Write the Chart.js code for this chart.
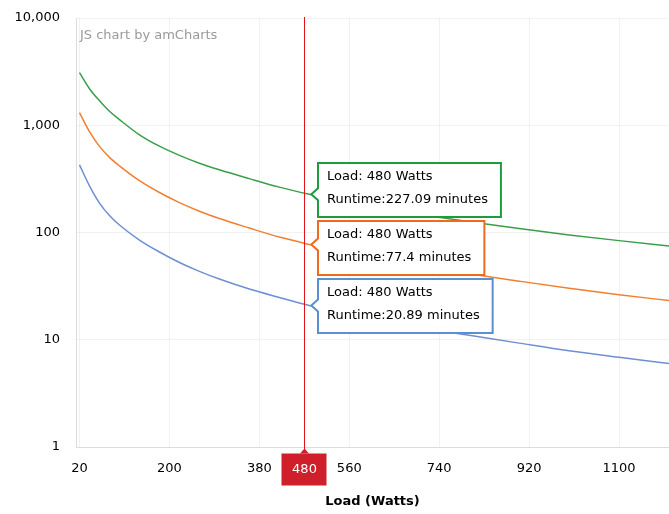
<!DOCTYPE html>
<html><head><meta charset="utf-8">
<script src="https://cdn.jsdelivr.net/npm/chart.js@4"></script>
<style>html,body{margin:0;padding:0;background:#fff;}#wrap{width:669px;height:514px;position:relative;}</style>
</head><body><div id="wrap"><canvas id="c" width="669" height="514"></canvas></div>
<script>
const loads = [20,40,60,80,100,140,180,220,260,300,360,420,480,540,600,700,800,900,1000,1100,1200];
const runtimeGreen = [3090,2190,1690,1350,1130,815,638,524,443,385,318,265,227.09,198,175,147,126,109,95,84,75];
const runtimeOrange = [1310,870,635,502,418,304,236,190,158,135,110,90.6,77.4,67.1,59,48.8,41.3,35.2,30.2,26.3,23.2];
const runtimeBlue = [427,272,188,144,117.5,85,65.8,52.5,43.4,36.8,29.7,24.8,20.89,18,15.8,13,11,9.3,7.9,6.86,6.0];
const xTicks = [20,200,380,560,740,920,1100];
const yTicks = [1,10,100,1000,10000];
const hoverLoad = 480;   // data point shown in the balloons
const cursorLoad = 469;  // where the cursor line sits

const FONT = '"DejaVu Sans", Verdana, sans-serif';
const series = [
  {label:'Runtime 1', data: runtimeGreen, line:'#3a9f4a', box:'#1f9b3b'},
  {label:'Runtime 2', data: runtimeOrange, line:'#f27f30', box:'#f06a1e'},
  {label:'Runtime 3', data: runtimeBlue, line:'#6f8fd3', box:'#5a8fd4'}
];

const overlay = {
  id:'overlay',
  afterDatasetsDraw(chart){
    const {ctx, chartArea:a, scales:{x,y}} = chart;
    ctx.save();
    ctx.font = '13px ' + FONT;
    ctx.fillStyle = '#9a9a9a'; ctx.textAlign='left'; ctx.textBaseline='middle';
    ctx.fillText('JS chart by amCharts', a.left+4, a.top+18);

    // cursor
    const cx = Math.round(x.getPixelForValue(cursorLoad)) + 0.5;
    ctx.strokeStyle = '#e3131b'; ctx.lineWidth = 1;
    ctx.beginPath(); ctx.moveTo(cx, a.top-1); ctx.lineTo(cx, a.bottom+6); ctx.stroke();
    const bt = a.bottom + 6.5;
    ctx.fillStyle = '#cf1f2b';
    ctx.fillRect(cx-23, bt, 45, 32);
    ctx.beginPath(); ctx.moveTo(cx-4.5, bt); ctx.lineTo(cx, bt-5); ctx.lineTo(cx+4.5, bt); ctx.closePath(); ctx.fill();
    ctx.fillStyle = '#fff'; ctx.textAlign='center';
    ctx.fillText(String(hoverLoad), cx, bt+16.5);

    // balloons
    const idx = loads.indexOf(hoverLoad);
    let prevBottom = -Infinity;
    ctx.textAlign = 'left';
    series.forEach(s => {
      const v = s.data[idx];
      const px = x.getPixelForValue(hoverLoad);
      const py = y.getPixelForValue(v);
      const l1 = 'Load: ' + hoverLoad + ' Watts';
      const l2 = 'Runtime:' + v + ' minutes';
      const w = Math.max(ctx.measureText(l1).width, ctx.measureText(l2).width) + 22;
      const h = 54;
      let top = Math.round(py - 31);
      if (top < prevBottom + 4) top = prevBottom + 4;
      prevBottom = top + h;
      const left = Math.round(px + 9);
      ctx.beginPath();
      ctx.moveTo(left, top);
      ctx.lineTo(left + w, top);
      ctx.lineTo(left + w, top + h);
      ctx.lineTo(left, top + h);
      ctx.lineTo(left, py + 6);
      ctx.lineTo(px + 2, py);
      ctx.lineTo(left, py - 6);
      ctx.closePath();
      ctx.fillStyle = '#fff'; ctx.fill();
      ctx.strokeStyle = s.box; ctx.lineWidth = 2; ctx.stroke();
      ctx.fillStyle = '#000';
      ctx.fillText(l1, left + 9, top + 14);
      ctx.fillText(l2, left + 9, top + 37);
    });
    ctx.restore();
  }
};

new Chart(document.getElementById('c'), {
  type:'line',
  data:{
    datasets: series.map(s => ({
      label: s.label,
      data: loads.map((l,i) => ({x:l, y:s.data[i]})),
      borderColor: s.line, borderWidth: 1.5, pointRadius: 0,
      fill:false, cubicInterpolationMode:'monotone'
    }))
  },
  options:{
    responsive:false, animation:false, events:[],
    layout:{padding:{top:18,left:0,right:0,bottom:0}},
    plugins:{legend:{display:false}, tooltip:{enabled:false}},
    scales:{
      x:{type:'linear', min:13, max:1200,
        afterBuildTicks: s => { s.ticks = xTicks.map(v => ({value:v})); },
        afterFit: s => { s.height = 67; s.paddingLeft = 0; s.paddingRight = 0; },
        ticks:{color:'#000', font:{family:FONT, size:13}, padding:14, maxRotation:0, autoSkip:false,
          callback: v => String(v)},
        grid:{color:'rgba(0,0,0,0.05)', drawTicks:false},
        border:{color:'#dcdcdc'},
        title:{display:true, text:'Load (Watts)', color:'#000', font:{family:FONT, size:13, weight:'bold'}, padding:{top:0,bottom:5}}
      },
      y:{type:'logarithmic', min:1, max:10000,
        afterBuildTicks: s => { s.ticks = yTicks.map(v => ({value:v})); },
        afterFit: s => { s.width = 76; s.paddingTop = 8; s.paddingBottom = 8; },
        ticks:{color:'#000', font:{family:FONT, size:13}, padding:16, autoSkip:false,
          callback: v => Number(v).toLocaleString('en-US')},
        grid:{color:'rgba(0,0,0,0.05)', drawTicks:false},
        border:{color:'#dcdcdc'}
      }
    }
  },
  plugins:[overlay]
});
</script></body></html>
